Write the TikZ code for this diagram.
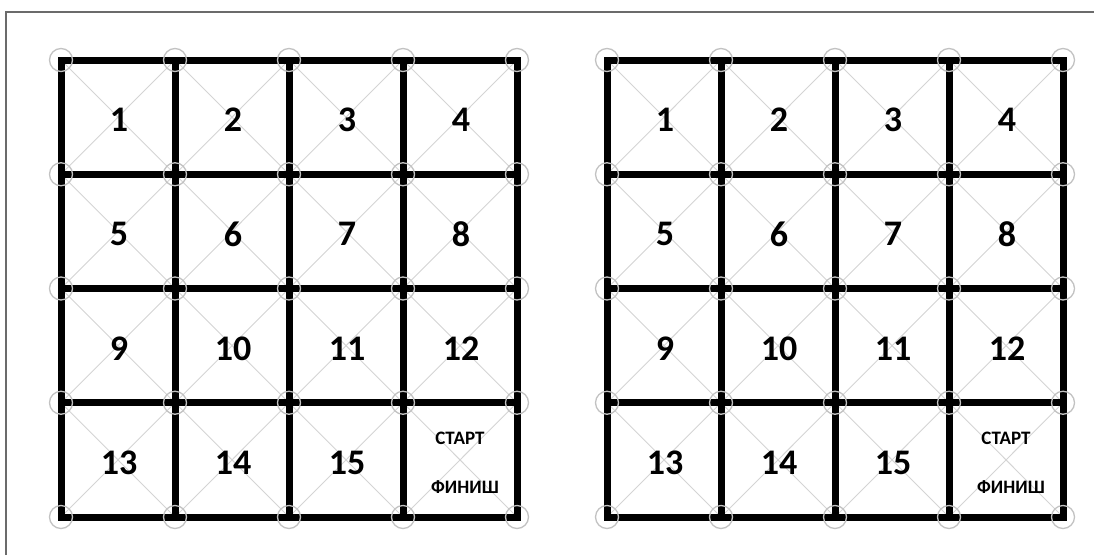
\documentclass[tikz,border=0pt]{standalone}
\usepackage{fontspec}
\setmainfont{Carlito}
\begin{document}
\begin{tikzpicture}[x=1pt,y=-1pt,
  frame/.style={draw=black!58, line width=1.5pt},
  wall/.style={draw=black, line width=7pt},
  diag/.style={draw=black!17, line width=0.9pt},
  corner/.style={circle, draw=black!24, line width=1.3pt, minimum size=23pt, inner sep=0pt},
  num/.style={font=\bfseries\fontsize{36}{36}\selectfont, inner sep=0pt},
  lbl/.style={font=\bfseries\fontsize{19}{19}\selectfont, inner sep=0pt}]
\useasboundingbox (0,0) rectangle (1094,555);
\draw[frame] (6,555) -- (6,12) -- (1094,12);
\foreach \g/\ox in {L/61, R/607}{
  % diagonals
  \foreach \c in {0,...,3}{
    \foreach \r in {0,...,3}{
      \draw[diag] (\ox+114*\c,60+114.25*\r) -- ++(114,114.25);
      \draw[diag] (\ox+114*\c+114,60+114.25*\r) -- ++(-114,114.25);
    }
  }
  % walls
  \draw[wall] (\ox,60) rectangle (\ox+456,517);
  \foreach \k in {1,2,3}{
    \draw[wall] (\ox+114*\k,60) -- (\ox+114*\k,517);
    \draw[wall] (\ox,60+114.25*\k) -- (\ox+456,60+114.25*\k);
  }
  % corner circles
  \foreach \c in {0,...,4}{
    \foreach \r in {0,...,4}{
      \node[corner] (\g c\c\r) at (\ox+114*\c,60+114.25*\r) {};
    }
  }
  % numbers
  \foreach \n [evaluate=\n as \c using {int(mod(\n-1,4))}, evaluate=\n as \r using {int((\n-1)/4)}] in {1,...,15}{
    \node[num] (\g n\n) at (\ox+57+114*\c+1,60+57+114.25*\r+3) {\n};
  }
  \node[lbl] (\g start) at (\ox+399,438) {СТАРТ};
  \node[lbl] (\g finish) at (\ox+404,487) {ФИНИШ};
}
\end{tikzpicture}
\end{document}
